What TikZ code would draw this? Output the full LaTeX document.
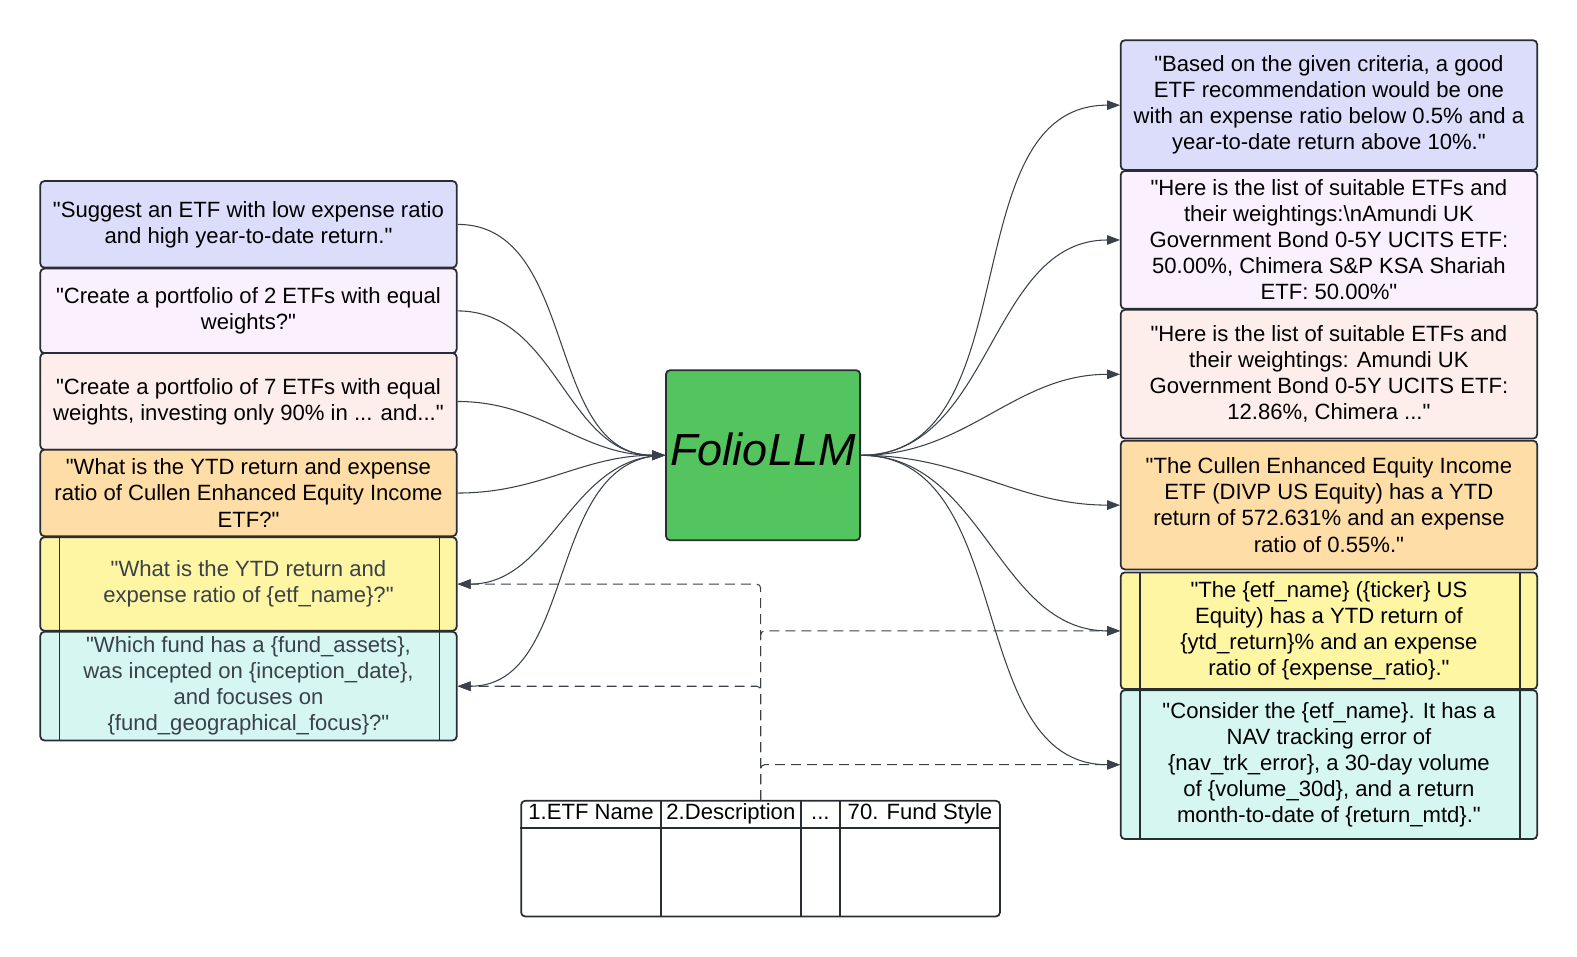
\documentclass[tikz,border=0pt]{standalone}
\usepackage{fontspec}
\setmainfont{Liberation Sans}
\usetikzlibrary{arrows.meta}
\definecolor{edge}{HTML}{282C33}
\definecolor{wire}{HTML}{3A414A}
\definecolor{cblue}{HTML}{DCDDFB}
\definecolor{clav}{HTML}{FBF0FE}
\definecolor{cpink}{HTML}{FDEEEC}
\definecolor{corange}{HTML}{FFDDA6}
\definecolor{cyellow}{HTML}{FFF6A4}
\definecolor{ccyan}{HTML}{D6F7F1}
\definecolor{cgreen}{HTML}{54C45E}
\newcommand{\qt}[1]{\textquotedbl#1\textquotedbl}
\tikzset{
  box/.style={draw=edge, line width=1pt, rounded corners=0.08cm, minimum width=8.28cm,
    inner sep=2pt, align=center, font=\fontsize{12.5}{14.75}\selectfont},
  head/.style={anchor=base, inner sep=0pt, font=\fontsize{12.5}{14.75}\selectfont},
  flow/.style={wire, line width=0.6pt, -{Triangle[length=0.26cm,width=0.19cm]}},
  link/.style={flow, dash pattern=on 0.2cm off 0.12cm, rounded corners=0.08cm},
  side/.style={draw=edge, line width=1pt}
}
\begin{document}
\begin{tikzpicture}[x=0.02cm, y=-0.02cm]
  \useasboundingbox (0,0) rectangle (1577,956);
  \begin{scope}[scale=1.006, transform shape]
  % prompts
  \node[box, fill=cblue, minimum height=1.72cm] (L1) at (247,223) {\qt{Suggest an ETF with low expense ratio\\and high year-to-date return.}};
  \node[box, fill=clav, minimum height=1.68cm] (L2) at (247,309) {\qt{Create a portfolio of 2 ETFs with equal\\weights?}};
  \node[box, fill=cpink, minimum height=1.92cm] (L3) at (247,399) {\qt{Create a portfolio of 7 ETFs with equal\\weights, investing only 90\% in ... and...}};
  \node[box, fill=corange, minimum height=1.72cm] (L4) at (247,490) {\qt{What is the YTD return and expense\\ratio of Cullen Enhanced Equity Income\\ETF?}};
  \node[box, fill=cyellow, text=wire, minimum height=1.86cm] (L5) at (247,580.5) {\qt{What is the YTD return and\\expense ratio of \{etf\_name\}?}};
  \node[box, fill=ccyan, text=wire, minimum height=2.16cm] (L6) at (247,682) {\qt{Which fund has a \{fund\_assets\},\\was incepted on \{inception\_date\},\\and focuses on\\\{fund\_geographical\_focus\}?}};
  % model
  \node[box, fill=cgreen, minimum width=3.86cm, minimum height=3.38cm, text depth=0.24cm, font=\fontsize{25.5}{30}\selectfont\itshape] (llm) at (758.5,452.5) {FolioLLM};
  % answers
  \node[box, fill=cblue, minimum height=2.58cm] (R1) at (1321,104.5) {\qt{Based on the given criteria, a good\\ETF recommendation would be one\\with an expense ratio below 0.5\% and a\\year-to-date return above 10\%.}};
  \node[box, fill=clav, minimum height=2.74cm] (R2) at (1321,238.5) {\qt{Here is the list of suitable ETFs and\\their weightings:\textbackslash nAmundi UK\\Government Bond 0-5Y UCITS ETF:\\50.00\%, Chimera S\&P KSA Shariah\\ETF: 50.00\%}};
  \node[box, fill=cpink, minimum height=2.56cm] (R3) at (1321,372) {\qt{Here is the list of suitable ETFs and\\their weightings: Amundi UK\\Government Bond 0-5Y UCITS ETF:\\12.86\%, Chimera ...}};
  \node[box, fill=corange, minimum height=2.56cm] (R4) at (1321,502) {\qt{The Cullen Enhanced Equity Income\\ETF (DIVP US Equity) has a YTD\\return of 572.631\% and an expense\\ratio of 0.55\%.}};
  \node[box, fill=cyellow, minimum height=2.32cm] (R5) at (1321,627) {\qt{The \{etf\_name\} (\{ticker\} US\\Equity) has a YTD return of\\\{ytd\_return\}\% and an expense\\ratio of \{expense\_ratio\}.}};
  \node[box, fill=ccyan, minimum height=2.96cm] (R6) at (1321,760) {\qt{Consider the \{etf\_name\}. It has a\\NAV tracking error of\\\{nav\_trk\_error\}, a 30-day volume\\of \{volume\_30d\}, and a return\\month-to-date of \{return\_mtd\}.}};
  % side bars of the template boxes
  \foreach \n in {L5,L6,R5,R6} {
    \draw[side] ([xshift=0.4cm]\n.north west) -- ([xshift=0.4cm]\n.south west);
    \draw[side] ([xshift=-0.36cm]\n.north east) -- ([xshift=-0.36cm]\n.south east);
  }
  % data table
  \node[draw=edge, line width=1pt, rounded corners=0.08cm, minimum width=9.52cm, minimum height=2.3cm] (tb) at (756,853.5) {};
  \draw[side] ([yshift=-0.56cm]tb.north west) -- ([yshift=-0.56cm]tb.north east);
  \foreach \x in {657,796,835} \draw[side] (\x,796) -- (\x,911);
  \node[head] (h1) at (587.5,814.5) {1.ETF Name};
  \node[head] (h2) at (726.5,814.5) {2.Description};
  \node[head] (h3) at (815.5,814.5) {...};
  \node[head] (h4) at (914.5,814.5) {70. Fund Style};
  % connectors
  \foreach \n in {L1,L2,L3,L4} \draw[flow] (\n.east) to[out=0,in=180] (llm.west);
  \foreach \n in {L5,L6} \draw[flow] (llm.west) to[out=180,in=0] (\n.east);
  \foreach \n in {R1,R2,R3,R4,R5,R6} \draw[flow] (llm.east) to[out=0,in=180] (\n.west);
  \foreach \n in {L5,L6} \draw[link] (tb.north) |- (\n.east);
  \foreach \n in {R5,R6} \draw[link] (tb.north) |- (\n.west);
  \end{scope}
\end{tikzpicture}
\end{document}
